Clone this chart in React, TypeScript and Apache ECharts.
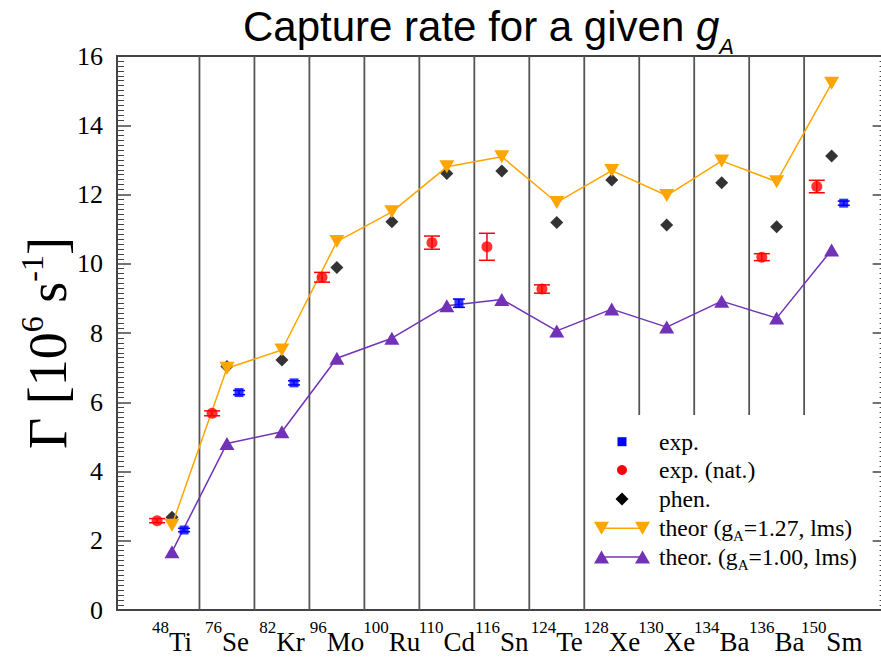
import React, { useEffect, useRef } from 'react';
import * as echarts from 'echarts';

// ---- data ----
const masses = ['48', '76', '82', '96', '100', '110', '116', '124', '128', '130', '134', '136', '150'];
const elements = ['Ti', 'Se', 'Kr', 'Mo', 'Ru', 'Cd', 'Sn', 'Te', 'Xe', 'Xe', 'Ba', 'Ba', 'Sm'];

const theor127 = [2.45, 6.98, 7.51, 10.64, 11.5, 12.8, 13.09, 11.77, 12.69, 11.97, 12.97, 12.37, 15.21];
const theor100 = [1.68, 4.81, 5.15, 7.27, 7.85, 8.79, 8.97, 8.06, 8.69, 8.17, 8.92, 8.43, 10.4];
const phen = [2.68, 7.03, 7.22, 9.89, 11.21, 12.61, 12.68, 11.19, 12.42, 11.12, 12.34, 11.07, 13.11];

const expIdx = [1, 2, 3, 6, 13];
const expVal = [2.31, 6.28, 6.56, 8.86, 11.75];
const expErr = [0.05, 0.06, 0.06, 0.12, 0.06];

const natIdx = [1, 2, 4, 6, 7, 8, 12, 13];
const natVal = [2.58, 5.68, 9.61, 10.61, 10.49, 9.27, 10.19, 12.23];
const natErr = [0.06, 0.07, 0.14, 0.19, 0.39, 0.12, 0.1, 0.18];

const sepPos = [1.5, 2.5, 3.5, 4.5, 5.5, 6.5, 7.5, 8.5, 9.5, 10.5, 11.5, 12.5];
const sepLow = [0, 0, 0, 0, 0, 0, 0, 0, 5.63, 5.63, 5.63, 5.63];

const xMin = 0;
const xMax = 14;
const yMin = 0;
const yMax = 16;
const yStep = 2;

// ---- styles ----
const SERIF = '"Liberation Serif", "Times New Roman", serif';
const SANS = '"Liberation Sans", Arial, sans-serif';
const ORANGE = '#ffa500';
const PURPLE = '#7232b8';
const BLUE = '#0000ff';
const RED = '#ff0000';
const AXIS = '#444';
const EXP_DX = 0.22;
const NAT_DX = -0.27;

function errBarSeries(name: string, xs: number[], vals: number[], errs: number[], color: string, hw: number) {
  return {
    type: 'custom',
    name,
    silent: true,
    encode: { x: 0, y: [1, 2] },
    data: xs.map((x, i) => [x, vals[i] - errs[i], vals[i] + errs[i]]),
    renderItem: (params: any, api: any) => {
      const x = api.value(0);
      const p1 = api.coord([x, api.value(1)]);
      const p2 = api.coord([x, api.value(2)]);
      const st = { stroke: color, lineWidth: 1.5 };
      return {
        type: 'group',
        children: [
          { type: 'line', shape: { x1: p1[0], y1: p1[1], x2: p2[0], y2: p2[1] }, style: st },
          { type: 'line', shape: { x1: p1[0] - hw, y1: p1[1], x2: p1[0] + hw, y2: p1[1] }, style: st },
          { type: 'line', shape: { x1: p2[0] - hw, y1: p2[1], x2: p2[0] + hw, y2: p2[1] }, style: st },
        ],
      };
    },
  };
}

function yAxisCommon() {
  return {
    type: 'value',
    min: yMin,
    max: yMax,
    interval: yStep,
    axisLine: { show: true, onZero: false, lineStyle: { color: AXIS, width: 2 } },
    axisTick: { show: true, inside: true, length: 14, lineStyle: { color: AXIS, width: 1.5 } },
    minorTick: { show: true, splitNumber: 14, length: 7, lineStyle: { color: AXIS, width: 1 } },
    splitLine: { show: false },
  };
}

// two overlapping bottom axes carry alternating labels, so neighbouring
// labels (which touch, as in the reference) are never dropped
function xAxisFor(values: number[], showLine: boolean) {
  return {
    type: 'value',
    position: 'bottom',
    min: xMin,
    max: xMax,
    axisLine: { show: showLine, onZero: false, lineStyle: { color: AXIS, width: 2 } },
    axisTick: { show: false },
    splitLine: { show: false },
    axisLabel: {
      customValues: values,
      margin: 9,
      hideOverlap: false,
      formatter: (v: number) => {
        const i = Math.round(v) - 1;
        return '{sup|' + masses[i] + '}{el|' + elements[i] + '}';
      },
      rich: {
        sup: { fontSize: 17, lineHeight: 17, fontFamily: SERIF, color: '#000', verticalAlign: 'top' },
        el: { fontSize: 27, lineHeight: 46, fontFamily: SERIF, color: '#000' },
      },
    },
  };
}

function buildOption() {
  const idx = theor127.map((_, i) => i + 1);
  const oddIdx = idx.filter((i) => i % 2 === 1);
  const evenIdx = idx.filter((i) => i % 2 === 0);
  const legendX = 622;
  const textX = 659;
  const rows = [441.7, 470, 499, 528.3, 557];
  const legendText = (y: number, text: string) => ({
    type: 'text',
    x: textX,
    y,
    style: {
      text,
      fill: '#000',
      align: 'left',
      verticalAlign: 'middle',
      rich: {
        t: { fontSize: 23.6, lineHeight: 30, fontFamily: SERIF, fill: '#000' },
        sub: { fontSize: 15, lineHeight: 15, fontFamily: SERIF, fill: '#000', verticalAlign: 'bottom' },
      },
    },
  });
  const tri = (cx: number, cy: number, down: boolean, color: string) => ({
    type: 'polygon',
    shape: {
      points: down
        ? [[cx - 7.5, cy - 6.5], [cx + 7.5, cy - 6.5], [cx, cy + 6.5]]
        : [[cx - 7.5, cy + 6.5], [cx + 7.5, cy + 6.5], [cx, cy - 6.5]],
    },
    style: { fill: color },
  });

  return {
    animation: false,
    backgroundColor: '#fff',
    grid: {
      left: 117,
      top: 56,
      width: 769.6,
      height: 554,
      show: true,
      borderColor: AXIS,
      borderWidth: 2,
      containLabel: false,
      outerBoundsMode: 'none',
    },
    xAxis: [xAxisFor(oddIdx, true), xAxisFor(evenIdx, false)],
    yAxis: [
      {
        ...yAxisCommon(),
        position: 'left',
        axisLabel: { fontSize: 26, fontFamily: SERIF, color: '#000', margin: 14 },
      },
      {
        ...yAxisCommon(),
        position: 'right',
        axisLabel: { show: false },
      },
    ],
    series: [
      {
        type: 'custom',
        name: 'separators',
        silent: true,
        encode: { x: 0, y: [1, 2] },
        data: sepPos.map((x, i) => [x, sepLow[i], yMax]),
        renderItem: (params: any, api: any) => {
          const x = api.value(0);
          const p1 = api.coord([x, api.value(1)]);
          const p2 = api.coord([x, api.value(2)]);
          return {
            type: 'line',
            shape: { x1: p1[0], y1: p1[1], x2: p2[0], y2: p2[1] },
            style: { stroke: '#555', lineWidth: 1.8 },
          };
        },
        z: 1,
      },
      {
        type: 'line',
        name: 'theor. (gA=1.00, lms)',
        data: theor100.map((v, i) => [idx[i], v]),
        symbol: 'triangle',
        symbolSize: [15, 13],
        lineStyle: { color: PURPLE, width: 1.5 },
        itemStyle: { color: PURPLE },
        z: 2,
      },
      {
        type: 'scatter',
        name: 'phen.',
        data: phen.map((v, i) => [idx[i], v]),
        symbol: 'diamond',
        symbolSize: 13,
        itemStyle: { color: '#000' },
        z: 3,
      },
      {
        type: 'line',
        name: 'theor (gA=1.27, lms)',
        data: theor127.map((v, i) => [idx[i], v]),
        symbol: 'triangle',
        symbolRotate: 180,
        symbolSize: [15, 13],
        lineStyle: { color: ORANGE, width: 1.5 },
        itemStyle: { color: ORANGE },
        z: 4,
      },
      { ...errBarSeries('nat-err', natIdx.map((i) => i + NAT_DX), natVal, natErr, RED, 8), z: 5 },
      {
        type: 'scatter',
        name: 'exp. (nat.)',
        data: natVal.map((v, i) => [natIdx[i] + NAT_DX, v]),
        symbol: 'circle',
        symbolSize: 11,
        itemStyle: { color: RED },
        z: 5,
      },
      { ...errBarSeries('exp-err', expIdx.map((i) => i + EXP_DX), expVal, expErr, BLUE, 6), z: 6 },
      {
        type: 'scatter',
        name: 'exp.',
        data: expVal.map((v, i) => [expIdx[i] + EXP_DX, v]),
        symbol: 'rect',
        symbolSize: 9,
        itemStyle: { color: BLUE },
        z: 6,
      },
    ],
    graphic: [
      {
        type: 'text',
        x: 243,
        y: 26,
        style: {
          text: '{t|Capture rate for a given }{g|g}{sub|A}',
          align: 'left',
          verticalAlign: 'middle',
          fill: '#000',
          rich: {
            t: { fontSize: 42, lineHeight: 62, fontFamily: SANS, fill: '#000' },
            g: { fontSize: 42, lineHeight: 62, fontFamily: SANS, fontStyle: 'italic', fill: '#000' },
            sub: { fontSize: 22, lineHeight: 22, fontFamily: SANS, fontStyle: 'italic', fill: '#000', verticalAlign: 'bottom' },
          },
        },
      },
      {
        type: 'text',
        x: 48,
        y: 343,
        rotation: Math.PI / 2,
        style: {
          text: '{t|\u0393 [10}{sup|6}{t| s}{sup|-1}{t|]}',
          align: 'center',
          verticalAlign: 'middle',
          fill: '#000',
          rich: {
            t: { fontSize: 54, lineHeight: 64, fontFamily: SERIF, fill: '#000' },
            sup: { fontSize: 32, lineHeight: 32, fontFamily: SERIF, fill: '#000', verticalAlign: 'top' },
          },
        },
      },
      // legend
      { type: 'rect', shape: { x: legendX - 4.5, y: rows[0] - 4.5, width: 9, height: 9 }, style: { fill: BLUE } },
      legendText(rows[0], '{t|exp.}'),
      { type: 'circle', shape: { cx: legendX, cy: rows[1], r: 5 }, style: { fill: RED } },
      legendText(rows[1], '{t|exp. (nat.)}'),
      {
        type: 'polygon',
        shape: { points: [[legendX, rows[2] - 6.5], [legendX + 6.5, rows[2]], [legendX, rows[2] + 6.5], [legendX - 6.5, rows[2]]] },
        style: { fill: '#000' },
      },
      legendText(rows[2], '{t|phen.}'),
      { type: 'line', shape: { x1: 601.5, y1: rows[3], x2: 642.5, y2: rows[3] }, style: { stroke: ORANGE, lineWidth: 1.5 } },
      tri(601.5, rows[3], true, ORANGE),
      tri(642.5, rows[3], true, ORANGE),
      legendText(rows[3], '{t|theor (g}{sub|A}{t|=1.27, lms)}'),
      { type: 'line', shape: { x1: 601.5, y1: rows[4], x2: 642.5, y2: rows[4] }, style: { stroke: PURPLE, lineWidth: 1.5 } },
      tri(601.5, rows[4], false, PURPLE),
      tri(642.5, rows[4], false, PURPLE),
      legendText(rows[4], '{t|theor. (g}{sub|A}{t|=1.00, lms)}'),
    ],
  };
}

export default function App() {
  const ref = useRef<HTMLDivElement>(null);
  useEffect(() => {
    if (!ref.current) return;
    const chart = echarts.init(ref.current, null, { renderer: 'svg' });
    chart.setOption(buildOption() as any);
    return () => chart.dispose();
  }, []);
  return (
    <div
      ref={ref}
      style={{ position: 'fixed', left: 0, top: 0, width: 881, height: 657, background: '#fff' }}
    />
  );
}
